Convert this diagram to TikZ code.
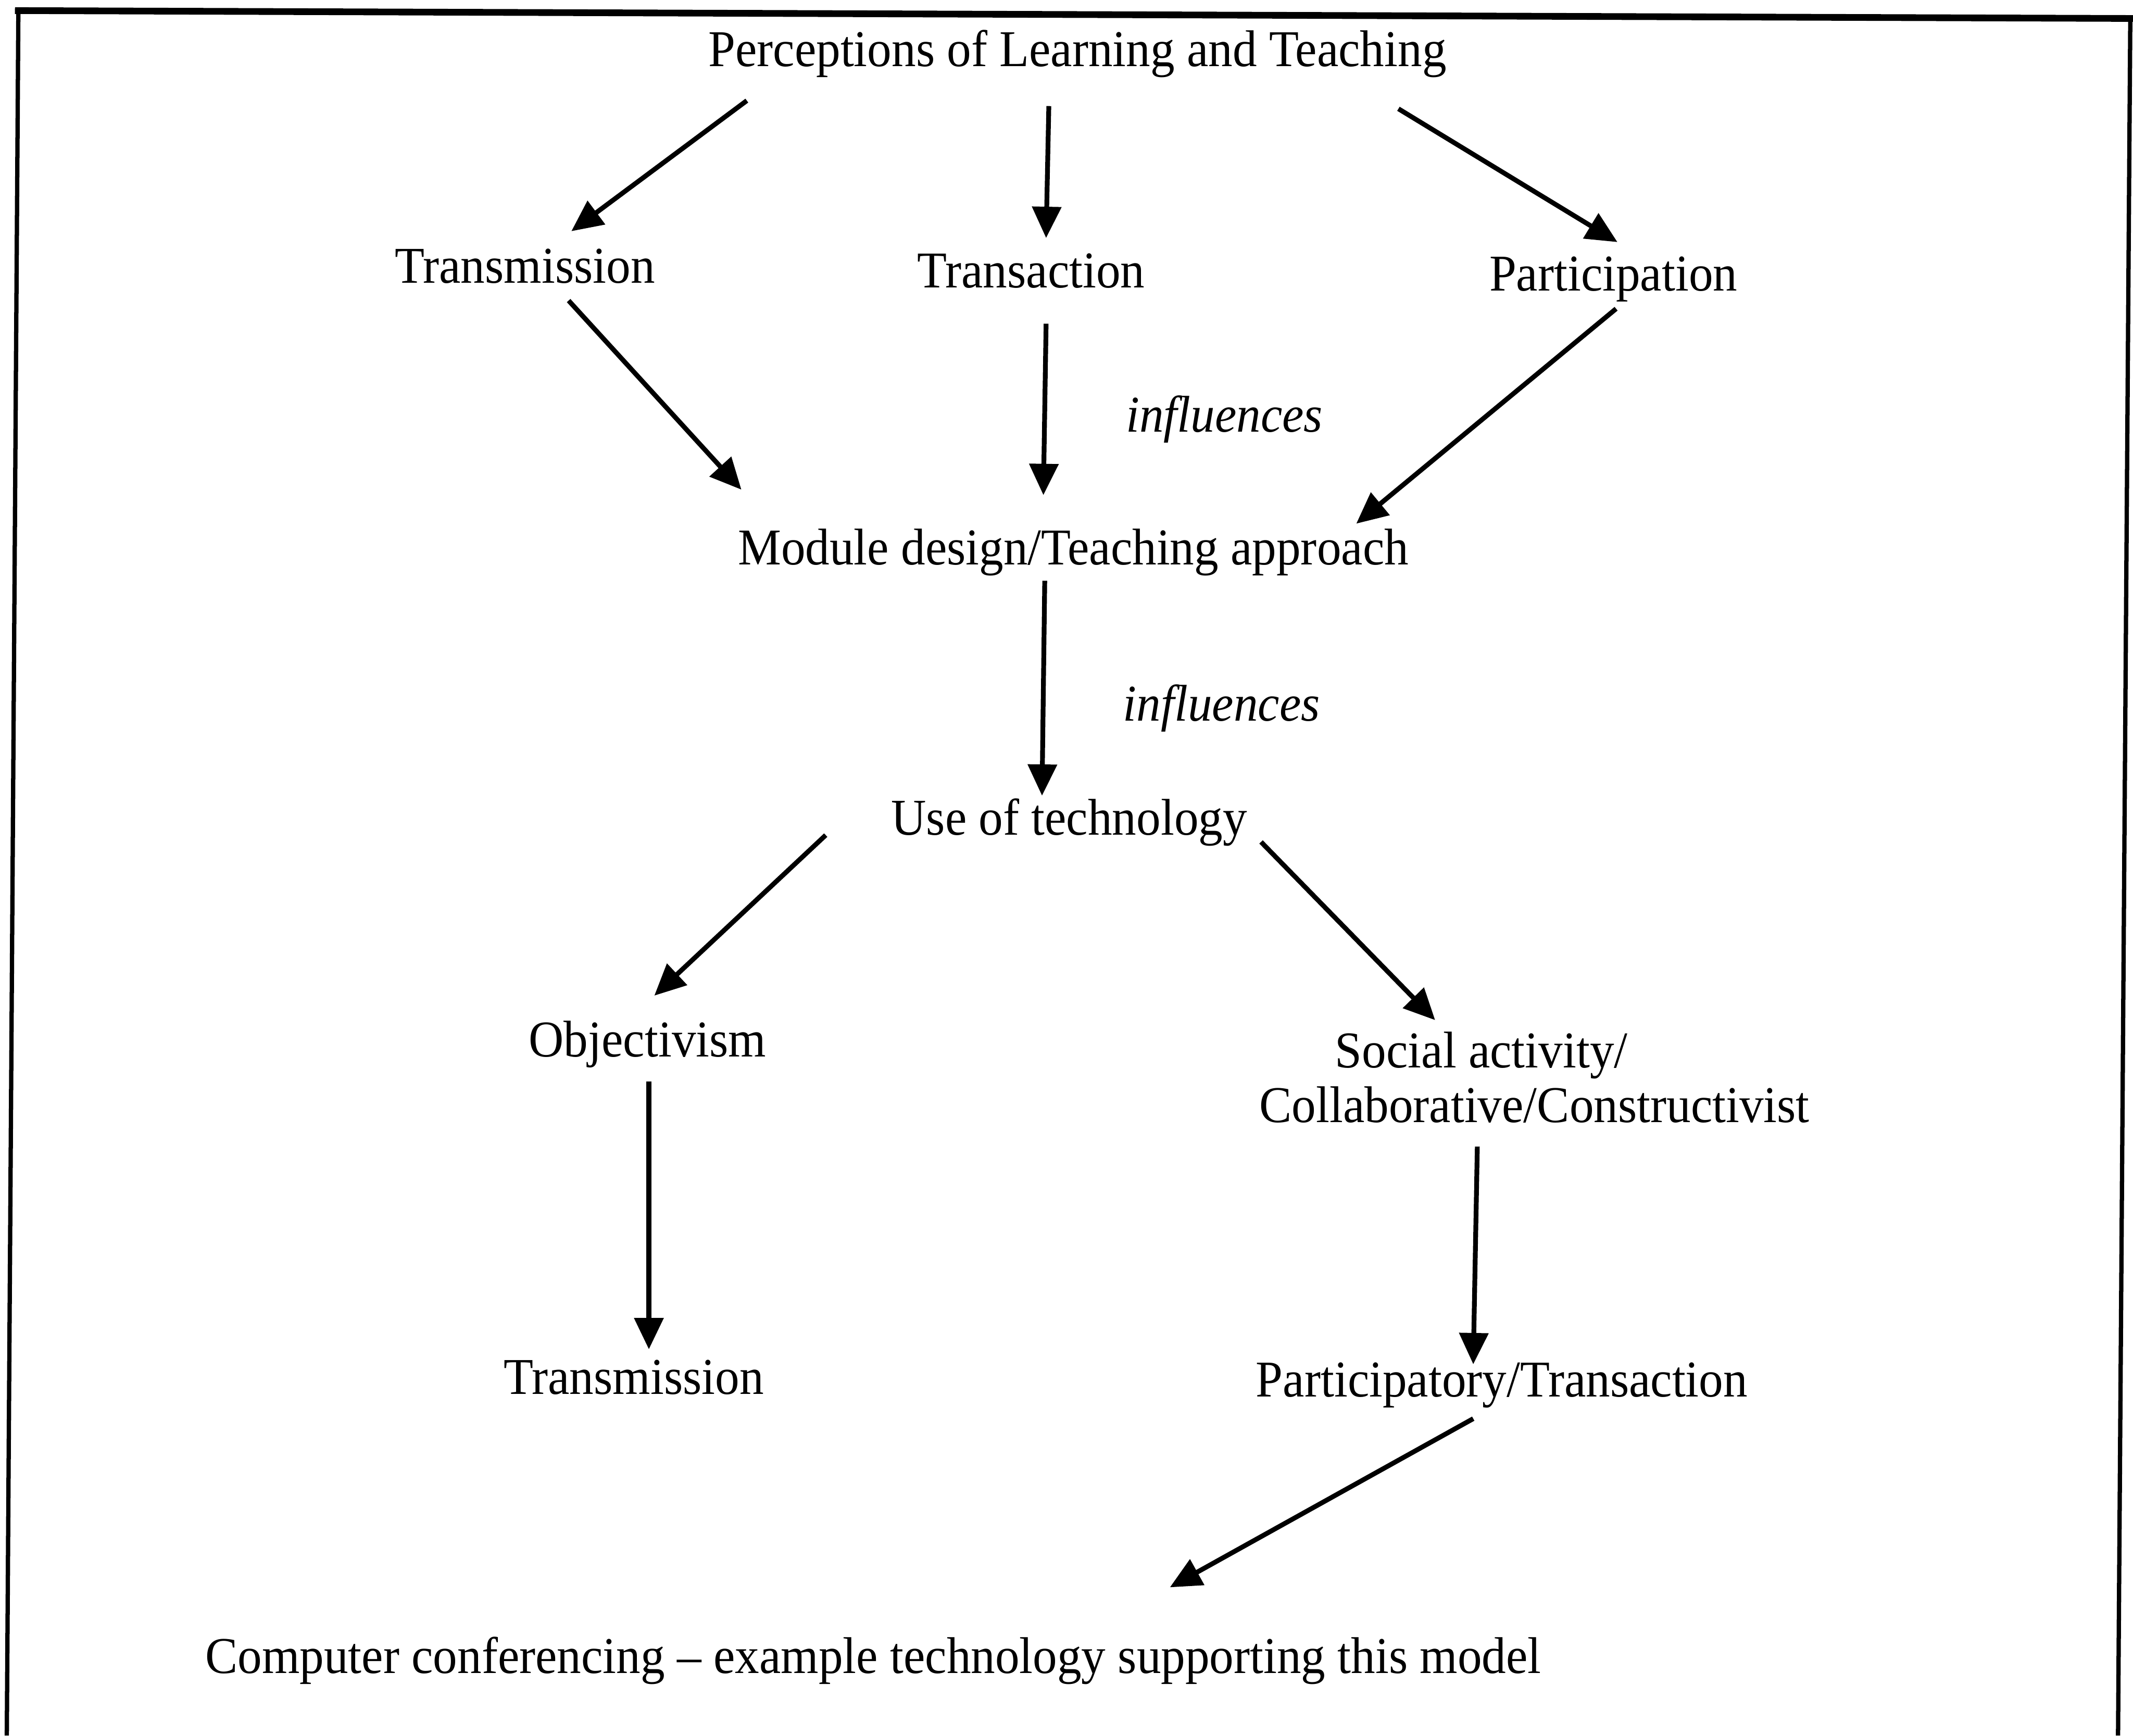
\documentclass[tikz,border=0pt]{standalone}
\usepackage{fontspec}
\setmainfont[FakeStretch=0.94]{Liberation Serif}
\usetikzlibrary{arrows.meta,calc}

\begin{document}
\begin{tikzpicture}[x=0.1mm,y=-0.1mm,
  lbl/.style={anchor=base,inner sep=0pt,font=\fontsize{10.8}{11.3}\selectfont},
  note/.style={lbl,font=\fontsize{10.8}{11.3}\selectfont\itshape},
  flow/.style={line width=1pt,-{Triangle[length=2.3mm,width=2.1mm]}},
  frame/.style={line width=0.9pt}]
\useasboundingbox (0,0) rectangle (1568,1276);

% open frame: heavy top rule and two side rules
\draw[line width=1.4pt] (11,7.8) -- (1568,13.6);
\draw[frame] (13.5,7.8) -- (5,1276);
\draw[frame] (1566,13.6) -- (1557,1276);

% labels (placed by baseline)
\node[lbl] (perc)  at (792,49)    {Perceptions of Learning and Teaching};
\node[lbl] (trm)   at (386,208)   {Transmission};
\node[lbl] (trn)   at (758,211.5) {Transaction};
\node[lbl] (part)  at (1186,214)  {Participation};
\node[note] (inf1) at (900,317.5) {influences};
\node[lbl] (mod)   at (789,415)   {Module design/Teaching approach};
\node[note] (inf2) at (898,530)   {influences};
\node[lbl] (use)   at (786,614)   {Use of technology};
\node[lbl] (obj)   at (476,777)   {Objectivism};
\node[lbl] (soca)  at (1089,785)  {Social activity/};
\node[lbl] (socb)  at (1128,825)  {Collaborative/Constructivist};
\node[lbl] (trm2)  at (466,1025)  {Transmission};
\node[lbl] (ptr)   at (1104,1027) {Participatory/Transaction};
\node[lbl] (comp)  at (642,1230)  {Computer conferencing -- example technology supporting this model};

% connectors
\draw[flow] ($(perc.base)+(-243,25)$) -- ($(trm.base)+(34,-38)$);
\draw[flow] ($(perc.base)+(-21,29)$)  -- ($(trn.base)+(11,-36.5)$);
\draw[flow] ($(perc.base)+(236,31)$)  -- ($(part.base)+(3,-36)$);
\draw[flow] ($(trm.base)+(32,13)$)    -- ($(mod.base)+(-244,-55)$);
\draw[flow] ($(trn.base)+(11,26.5)$)  -- ($(mod.base)+(-22,-51)$);
\draw[flow] ($(part.base)+(2,13)$)    -- ($(mod.base)+(208,-30)$);
\draw[flow] ($(mod.base)+(-21,12)$)   -- ($(use.base)+(-20,-29)$);
\draw[flow] ($(use.base)+(-179,0)$)   -- ($(obj.base)+(5,-45)$);
\draw[flow] ($(use.base)+(141,5)$)    -- ($(soca.base)+(-34,-35)$);
\draw[flow] ($(obj.base)+(1,18)$)     -- ($(trm2.base)+(11,-33)$);
\draw[flow] ($(socb.base)+(-42,18)$)  -- ($(ptr.base)+(-21,-24)$);
\draw[flow] ($(ptr.base)+(-21,16)$)   -- ($(comp.base)+(218,-63)$);
\end{tikzpicture}
\end{document}
